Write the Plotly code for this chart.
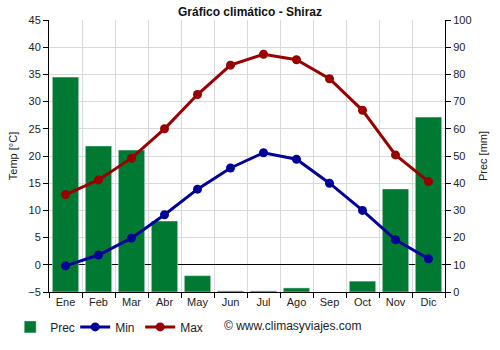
import plotly.graph_objects as go

months = ["Ene", "Feb", "Mar", "Abr", "May", "Jun", "Jul", "Ago", "Sep", "Oct", "Nov", "Dic"]
prec = [79, 53.7, 52.2, 26.1, 6.0, 0.4, 0.4, 1.5, 0, 4.0, 37.9, 64.3]
t_min = [-0.2, 1.8, 4.9, 9.2, 13.9, 17.8, 20.6, 19.4, 15.0, 10.0, 4.6, 1.1]
t_max = [12.9, 15.6, 19.6, 25.0, 31.3, 36.7, 38.7, 37.7, 34.2, 28.4, 20.2, 15.3]

GREEN = "#007a33"
BLUE = "#000099"
RED = "#990000"
FONT = "Liberation Sans, Arial, sans-serif"

fig = go.Figure()
# precipitation on the primary (right-hand) axis so the temperature lines draw above it
fig.add_trace(go.Bar(x=months, y=prec, name="Prec", marker_color=GREEN,
                     width=0.8, yaxis="y"))
fig.add_trace(go.Scatter(x=months, y=t_min, name="Min", mode="lines+markers", yaxis="y2",
                         line=dict(color=BLUE, width=3), marker=dict(size=9, color=BLUE)))
fig.add_trace(go.Scatter(x=months, y=t_max, name="Max", mode="lines+markers", yaxis="y2",
                         line=dict(color=RED, width=3), marker=dict(size=9, color=RED)))

fig.update_layout(
    width=500, height=350,
    margin=dict(l=49, r=55, t=20, b=58, autoexpand=False),
    paper_bgcolor="white", plot_bgcolor="white",
    font=dict(family=FONT, size=11, color="#222"),
    title=dict(text="<b>Gráfico climático - Shiraz</b>", x=0.5, xanchor="center",
               y=0.965, yanchor="middle", font=dict(size=12, color="#111")),
    xaxis=dict(type="category", tickson="boundaries", ticks="outside", ticklen=5,
               tickcolor="black", showgrid=True, gridcolor="#d9d9d9",
               showline=True, linecolor="black", range=[-0.5, 11.5]),
    yaxis=dict(range=[0, 100], dtick=10, side="right",
               showgrid=True, gridcolor="#d9d9d9", zeroline=False,
               showline=True, linecolor="black", ticks="outside", ticklen=5,
               tickcolor="black",
               title=dict(text="Prec [mm]", standoff=8, font=dict(size=11))),
    yaxis2=dict(range=[-5, 45], dtick=5, overlaying="y", side="left",
                showgrid=False, zeroline=True, zerolinecolor="black", zerolinewidth=1,
                showline=True, linecolor="black", ticks="outside", ticklen=5,
                tickcolor="black",
                title=dict(text="Temp [°C]", standoff=8, font=dict(size=11))),
    legend=dict(orientation="h", x=-0.098, xanchor="left",
                yref="container", y=0.066, yanchor="middle",
                font=dict(size=12), traceorder="normal", itemwidth=30,
                entrywidth=20, entrywidthmode="pixels"),
    bargap=0.2,
    annotations=[dict(text="© www.climasyviajes.com", xref="paper", yref="paper",
                      x=0.795, y=-0.125, xanchor="right", yanchor="middle",
                      showarrow=False, font=dict(size=12, color="#222"))],
)

fig.write_html("out.html")
